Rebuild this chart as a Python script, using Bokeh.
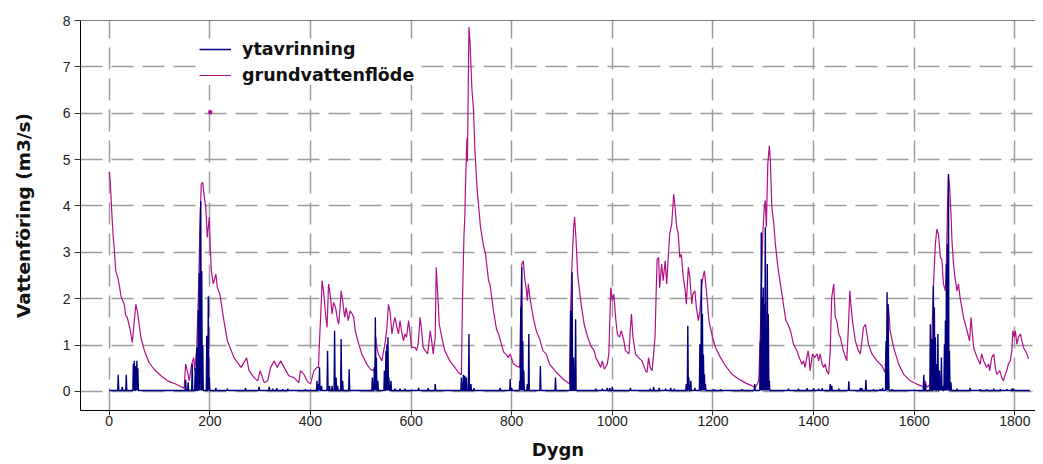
import numpy as np
from bokeh.plotting import figure
from bokeh.models import Range1d, Legend, LegendItem, Span, FixedTicker
from bokeh.embed import file_html
from bokeh.resources import INLINE

# ---- data ----
x_ticks = [0, 200, 400, 600, 800, 1000, 1200, 1400, 1600, 1800]
y_ticks = [0, 1, 2, 3, 4, 5, 6, 7, 8]
series_names = ["ytavrinning", "grundvattenflöde"]

# grundvattenflöde (groundwater flow), day / m3/s
gv_days = [0, 2, 5, 8, 10, 13, 17, 20, 24, 30, 33, 36, 42, 46, 50, 53, 56, 63, 70, 79, 89, 103, 116, 132, 149,
           152, 156, 159, 164, 168, 170, 174, 177, 179, 181, 183, 186, 189, 192, 195, 199, 201, 203, 207, 212,
           215, 220, 228, 235, 248, 262, 270, 273, 278, 288, 295, 300, 308, 315, 321, 328, 334, 341, 351, 357,
           367, 377, 380, 387, 393, 400, 407, 413, 416, 418, 422, 423, 426, 430, 433, 436, 440, 443, 446, 450,
           453, 456, 459, 461, 464, 468, 471, 475, 479, 483, 486, 489, 496, 502, 512, 519, 525, 529, 530, 532,
           535, 542, 549, 552, 555, 558, 562, 565, 568, 572, 575, 578, 581, 585, 588, 591, 595, 598, 601, 608,
           611, 614, 618, 621, 624, 628, 633, 638, 641, 644, 648, 650, 653, 656, 661, 667, 677, 687, 694, 700,
           702, 705, 707, 708, 711, 712, 715, 717, 721, 724, 727, 731, 738, 744, 748, 754, 757, 764, 770, 774,
           777, 784, 790, 793, 797, 803, 810, 816, 818, 820, 823, 826, 829, 831, 833, 836, 843, 849, 856, 862,
           869, 875, 889, 902, 915, 917, 919, 923, 925, 928, 931, 938, 944, 951, 957, 964, 967, 974, 977, 980,
           984, 990, 993, 997, 1000, 1003, 1007, 1010, 1014, 1018, 1023, 1026, 1033, 1036, 1038, 1041, 1046,
           1052, 1059, 1066, 1069, 1072, 1075, 1079, 1082, 1085, 1087, 1089, 1092, 1094, 1098, 1101, 1105,
           1108, 1112, 1114, 1118, 1122, 1124, 1128, 1131, 1134, 1137, 1141, 1145, 1147, 1151, 1154, 1158,
           1160, 1164, 1167, 1171, 1174, 1178, 1180, 1183, 1187, 1192, 1199, 1205, 1215, 1225, 1238, 1251,
           1265, 1278, 1284, 1288, 1291, 1294, 1296, 1299, 1302, 1304, 1306, 1309, 1312, 1314, 1317, 1321,
           1324, 1329, 1334, 1341, 1345, 1349, 1354, 1357, 1360, 1367, 1370, 1377, 1380, 1383, 1389, 1391,
           1393, 1398, 1402, 1407, 1410, 1413, 1417, 1420, 1423, 1426, 1430, 1433, 1436, 1440, 1443, 1446,
           1450, 1453, 1459, 1466, 1470, 1472, 1474, 1478, 1483, 1489, 1493, 1496, 1499, 1503, 1506, 1509,
           1516, 1526, 1536, 1542, 1546, 1548, 1550, 1552, 1559, 1569, 1579, 1592, 1605, 1619, 1622, 1625,
           1632, 1635, 1638, 1642, 1645, 1648, 1652, 1655, 1658, 1662, 1664, 1666, 1668, 1670, 1673, 1675,
           1678, 1681, 1685, 1688, 1691, 1698, 1705, 1710, 1713, 1715, 1718, 1725, 1731, 1734, 1738, 1744,
           1748, 1750, 1754, 1758, 1761, 1764, 1770, 1774, 1777, 1781, 1784, 1787, 1791, 1794, 1796, 1799,
           1801, 1804, 1807, 1811, 1814, 1817, 1824, 1827]
gv_vals = [4.73, 4.55, 3.9, 3.32, 3.1, 2.6, 2.46, 2.3, 2.03, 1.88, 1.63, 1.6, 1.31, 1.06, 1.53, 1.88, 1.74, 1.17,
           0.88, 0.63, 0.48, 0.34, 0.23, 0.16, 0.07,
           0.59, 0.41, 0.23, 0.59, 0.73, 0.45, 0.95, 1.96, 2.82, 3.83, 4.47, 4.51, 4.19, 3.97, 3.32, 3.76, 3.1,
           2.6, 2.32, 2.53,
           2.24, 2.1, 1.53, 1.09, 0.73, 0.52, 0.66, 0.73, 0.45, 0.3, 0.23, 0.45, 0.19, 0.23, 0.52, 0.66, 0.52,
           0.66, 0.45, 0.34,
           0.3, 0.19, 0.45, 0.37, 0.23, 0.16, 0.45, 0.52, 0.52, 1.09, 2.03, 2.39, 2.17, 1.67, 1.38, 2.32, 2.03,
           1.67, 1.92, 1.81,
           1.6, 1.45, 1.81, 2.17, 1.96, 1.6, 1.81, 1.53, 1.74, 1.67, 1.6, 1.31, 1.02, 0.81, 0.59, 0.48, 0.45,
           0.52, 1.17, 0.95,
           0.81, 0.66, 1.09, 1.38, 1.88, 1.74, 1.24, 1.45, 1.6, 1.38, 1.24, 1.53, 1.31, 1.09, 1.24, 1.17, 1.53,
           1.24, 0.95, 0.95,
           0.88, 1.02, 1.6, 1.31, 0.95, 0.88, 0.81, 1.31, 1.09, 0.81, 1.17, 2.68, 2.1, 1.45, 1.17, 0.88, 0.66,
           0.52, 0.41, 0.36,
           1.88, 3.32, 3.83, 4.38, 5.46, 4.96, 7.86, 7.57, 6.5, 6.1, 5.17, 4.4, 3.54, 3.14, 2.96, 2.39, 2.3,
           1.72, 1.33, 1.24,
           1.12, 0.85, 0.79, 0.73, 0.81, 0.6, 0.55, 0.52, 1.81, 2.75, 2.82, 2.42, 2.2, 1.96, 2.32, 2.03, 1.58,
           1.3, 1.12, 0.88,
           0.8, 0.59, 0.41, 0.27, 0.16, 1.74, 2.53, 3.54, 3.76, 3.25, 2.53, 1.88, 1.45, 1.17, 0.99, 0.88, 0.73,
           0.59, 0.52, 0.66,
           0.48, 0.59, 0.81, 2.24, 1.96, 2.1, 1.53, 1.24, 1.17, 1.31, 1.09, 0.88, 0.81, 1.38, 1.67, 1.17, 0.81,
           0.73, 0.66, 0.45, 0.41, 0.73, 0.52, 0.45, 0.81, 1.2, 2.1, 2.85, 2.89, 2.24, 2.75, 2.39, 2.82,
           2.32, 3.04, 3.4, 3.61, 4.26, 4.04, 3.54, 3.4, 2.89, 2.96, 2.46, 2.17, 1.88, 2.68, 2.46, 1.88,
           2.1, 2.17, 1.81, 1.53, 1.74, 2.32, 2.46, 2.6, 2.17, 1.53, 1.17, 0.95, 0.73, 0.55, 0.37, 0.27,
           0.18, 0.12, 0.09, 0.16, 0.23, 1.17, 2.1, 3.4, 3.97, 4.12, 3.54, 4.91, 5.3, 4.98, 3.97, 3.61,
           3.18, 2.68, 2.32, 1.81, 1.53, 1.45, 1.31, 1.17, 1.02, 0.88, 0.77, 0.59, 0.66, 0.52, 0.88, 0.73,
           0.45, 0.81, 0.73, 0.81, 0.66, 0.81, 0.59, 0.52, 0.59, 0.45, 0.37, 0.88, 2.03, 2.32, 1.6, 1.53,
           1.24, 1.17, 0.88, 0.66, 1.6, 2.17, 1.88, 1.45, 1.09, 0.88, 0.81, 1.09, 1.38, 1.45, 1.24, 1.02,
           0.81, 0.66, 0.55, 0.41, 1.31, 1.88, 1.67, 1.31, 0.95, 0.59, 0.37, 0.23, 0.16, 0.1, 0.23, 0.09,
           0.16, 1.17, 2.24, 3.18, 3.5, 3.4, 2.89, 2.85, 2.32, 2.17, 2.82, 3.9, 4.65, 4.47, 3.83, 3.25,
           2.75, 2.46, 2.17, 2.32, 2.03, 1.6, 1.31, 1.09, 1.6, 1.31, 0.95, 0.73, 0.59, 0.81, 0.66, 0.52,
           0.59, 0.45, 0.73, 0.81, 0.52, 0.37, 0.45, 0.3, 0.23, 0.37, 0.45, 0.59, 0.66, 0.88, 1.31, 1.17,
           1.31, 1.02, 1.17, 1.24, 1.09, 0.95, 0.81, 0.7]

# isolated groundwater point near day 200
gv_dot_days = [201]
gv_dot_vals = [6.02]

# ytavrinning (surface runoff): days with runoff and their peak values
yt_days = [18, 26, 34, 48, 50, 53, 55, 57, 152, 157, 165, 171, 174, 177, 179, 181, 182, 184, 186, 194, 197, 199,
           212, 235, 271, 298, 318, 325, 333, 345, 355, 390, 413, 416, 418, 422, 434, 438, 443, 448, 451, 454,
           461, 464, 477, 523, 527, 529, 531, 534, 547, 550, 552, 554, 556, 560, 568, 578, 588, 615, 634, 648,
           700, 704, 707, 710, 715, 719, 725, 777, 797, 800, 816, 818, 820, 822, 824, 831, 834, 857, 887, 917,
           920, 923, 927, 967, 980, 990, 995, 1000, 1036, 1075, 1082, 1093, 1106, 1116, 1123, 1147, 1150,
           1152, 1156, 1164, 1174, 1177, 1179, 1181, 1183, 1185, 1202, 1215, 1258, 1283, 1294, 1296, 1298,
           1300, 1302, 1304, 1306, 1308, 1310, 1312, 1350, 1370, 1387, 1400, 1410, 1417, 1433, 1436, 1450,
           1470, 1493, 1496, 1504, 1519, 1532, 1537, 1544, 1546, 1548, 1549, 1556, 1619, 1622, 1632, 1635,
           1638, 1640, 1642, 1645, 1647, 1650, 1652, 1654, 1656, 1660, 1662, 1664, 1666, 1668, 1670, 1673,
           1685, 1711, 1731, 1744, 1758, 1771, 1784, 1794, 1797]
yt_vals = [0.36, 0.1, 0.36, 0.6, 0.66, 0.55, 0.66, 0.5, 0.25, 0.2, 0.6, 0.5, 0.95, 1.75, 2.55, 3.5, 4.1, 2.6, 1.0,
           1.2, 2.05, 0.3,
           0.08, 0.06, 0.08, 0.1, 0.1, 0.06, 0.07, 0.05, 0.06, 0.05, 0.23, 0.16, 0.52, 0.12, 0.88, 0.12, 0.12,
           1.31, 0.3, 0.12,
           1.13, 0.23, 0.48, 0.3, 0.52, 1.6, 0.73, 0.23, 0.45, 0.88, 1.02, 1.17, 0.3, 0.23, 0.06, 0.06, 0.06,
           0.08, 0.07, 0.16,
           0.3, 0.36, 0.34, 0.3, 1.24, 0.16, 0.07, 0.08, 0.27, 0.08, 0.23, 1.81, 2.68, 1.09, 0.45, 0.16, 1.24,
           0.55, 0.3, 1.74,
           2.57, 0.73, 1.56, 0.06, 0.06, 0.08, 0.07, 0.1, 0.08, 0.06, 0.1, 0.08, 0.06, 0.08, 0.06, 0.16, 1.42,
           0.3, 0.23, 0.08, 1.02, 2.42, 1.67, 0.8, 0.37, 0.16, 0.05, 0.05, 0.05, 0.16, 1.09, 3.43, 2.03,
           2.24, 1.88, 3.54, 1.17, 2.75, 1.67, 0.23, 0.06, 0.06, 0.07, 0.07, 0.06, 0.07, 0.16, 0.13, 0.06,
           0.22, 0.08, 0.07, 0.25, 0.05, 0.05, 0.08, 1.09, 2.14, 1.88, 0.52, 0.05, 0.36, 0.16, 1.45, 1.13,
           2.28, 1.81, 1.17, 0.59, 1.24, 0.45, 0.2, 0.73, 0.12, 1.02, 1.53, 2.75, 3.18, 4.69, 0.88, 0.2,
           0.06, 0.08, 0.05, 0.05, 0.06, 0.05, 0.05, 0.06, 0.06]
yt_base = 0.02      # runoff level between events
yt_first_day = 0
yt_last_day = 1830

# daily runoff series built from the values above
yt_all_days = np.arange(yt_first_day, yt_last_day + 1)
yt_all_vals = np.full(len(yt_all_days), yt_base)
for d, v in zip(yt_days, yt_vals):
    yt_all_vals[d - yt_first_day] = v

BLUE = "#00007f"
PURPLE = "#b0108a"
GRID = "#9c9c9c"

p = figure(width=1035, height=462, output_backend="svg", toolbar_location=None,
           x_range=Range1d(-57, 1841), y_range=Range1d(-0.41, 8.0),
           min_border_left=80, min_border_right=0, min_border_top=20, min_border_bottom=52)
p.outline_line_color = None
p.background_fill_color = "white"
p.border_fill_color = "white"

for g, t in ((p.xgrid, x_ticks), (p.ygrid, y_ticks)):
    g.ticker = FixedTicker(ticks=t)
    g.grid_line_color = GRID
    g.grid_line_width = 1.5
    g.grid_line_dash = "22 9"

p.add_layout(Span(location=8, dimension="width", line_color="black", line_width=1))

gv_r = p.line(gv_days, gv_vals, line_color=PURPLE, line_width=1.2)
p.scatter(gv_dot_days, gv_dot_vals, marker="square", size=3, color=PURPLE)
yt_r = p.line(yt_all_days, yt_all_vals, line_color=BLUE, line_width=1.4)

p.xaxis.ticker = FixedTicker(ticks=x_ticks)
p.yaxis.ticker = FixedTicker(ticks=y_ticks)
for ax in (p.xaxis[0], p.yaxis[0]):
    ax.axis_line_color = "black"
    ax.axis_line_width = 1
    ax.major_tick_line_color = "#333333"
    ax.major_tick_out = 6
    ax.major_tick_in = 0
    ax.minor_tick_line_color = None
    ax.major_label_text_font = "Liberation Sans Narrow, Liberation Sans"
    ax.major_label_text_font_size = "14px"
    ax.major_label_text_color = "#222222"
    ax.axis_label_text_font = "DejaVu Sans"
    ax.axis_label_text_font_style = "bold"
    ax.axis_label_text_color = "#111111"

p.xaxis.axis_label = "Dygn"
p.xaxis.axis_label_text_font_size = "18px"
p.xaxis.major_tick_out = 5
p.xaxis.major_label_standoff = 0
p.xaxis.axis_label_standoff = 10
p.yaxis.axis_label = "Vattenföring (m3/s)"
p.yaxis.axis_label_text_font_size = "18.5px"
p.yaxis.major_label_standoff = 4
p.yaxis.axis_label_standoff = 26

legend = Legend(items=[LegendItem(label=series_names[0], renderers=[yt_r]),
                       LegendItem(label=series_names[1], renderers=[gv_r])],
                location=(119, 325))
legend.label_text_font = "DejaVu Sans"
legend.label_text_font_style = "bold"
legend.label_text_font_size = "17.5px"
legend.label_text_color = "#111111"
legend.glyph_width = 32
legend.glyph_height = 20
legend.label_height = 20
legend.label_standoff = 11
legend.spacing = 6
legend.padding = 10
legend.border_line_color = None
legend.background_fill_color = "white"
legend.background_fill_alpha = 1.0
p.add_layout(legend)

open("out.html", "w").write(file_html(p, INLINE))
